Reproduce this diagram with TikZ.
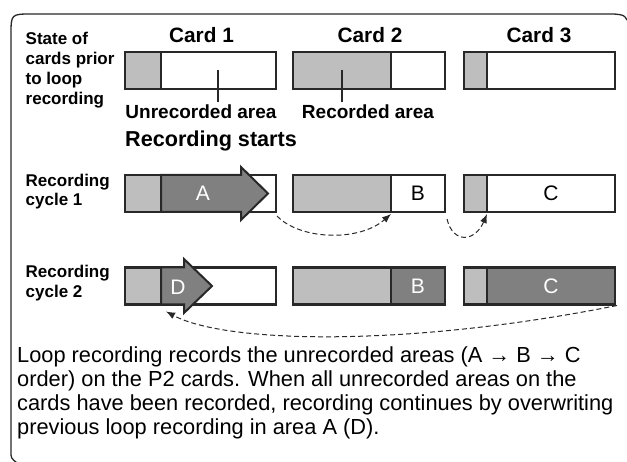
\documentclass[tikz,border=0pt]{standalone}
\usepackage{fontspec}
\setmainfont{Liberation Sans}
\usetikzlibrary{arrows.meta}
\definecolor{recgrey}{RGB}{190,190,190}
\definecolor{newgrey}{RGB}{128,128,128}
\definecolor{edgegrey}{RGB}{40,40,40}

\begin{document}
\begin{tikzpicture}[x=1pt,y=-1pt,
  seg/.style={draw=edgegrey,line width=2.4pt,minimum height=37pt,inner sep=0pt,outer sep=0pt,anchor=west,font=\fontsize{21}{24}\selectfont},
  old/.style={seg,fill=recgrey},
  new/.style={seg,fill=newgrey,text=white},
  head/.style={draw=edgegrey,line width=2pt,fill=newgrey,line join=miter},
  title/.style={font=\bfseries\fontsize{20.8}{24}\selectfont,anchor=base,inner sep=3pt},
  side/.style={font=\bfseries\fontsize{17}{20}\selectfont,align=left,anchor=base west,inner sep=0pt},
  tag/.style={font=\fontsize{21}{24}\selectfont,text=white},
  flow/.style={draw=edgegrey,line width=1pt,dash pattern=on 5pt off 3pt,-{Latex[length=9pt,width=7pt]}},
  pointer/.style={draw=edgegrey,line width=1.5pt}
]
\useasboundingbox (0,0) rectangle (627,462);

% frame
\draw[edgegrey,line width=1.3pt] (627,20) .. controls (624,15) .. (614,14) -- (32,14)
  .. controls (11,14) .. (11,35) -- (11,452) .. controls (11,458) .. (17,463);

% titles (base of a multi-line node = its last line)
\node (card1) at (201.5,42.7) [title] {Card 1};
\node (card2) at (370,42.7) [title] {Card 2};
\node (card3) at (539,42.7) [title] {Card 3};
\node (before) at (25.5,105) [side] {State of\\cards prior\\to loop\\recording};
\node (cycle1) at (25.5,205.5) [side,font=\bfseries\fontsize{17}{19}\selectfont] {Recording\\cycle 1};
\node (cycle2) at (25.5,297.5) [side,font=\bfseries\fontsize{17}{19.5}\selectfont] {Recording\\cycle 2};
\node (start) at (125,146.7) [title,anchor=base west,inner sep=0pt,font=\bfseries\fontsize{21.6}{24}\selectfont] {Recording starts};

% recorded parts, same in every row
\foreach \row/\y in {0/70.5,1/193.5,2/286} {
  \node (g1\row) at (125,\y) [old,minimum width=36pt] {};
  \node (g2\row) at (293,\y) [old,minimum width=98pt] {};
  \node (g3\row) at (464,\y) [old,minimum width=23pt] {};
}

% state before
\node (u10) at (g10.east) [seg,minimum width=115pt] {};
\node (u20) at (g20.east) [seg,minimum width=54pt] {};
\node (u30) at (g30.east) [seg,minimum width=128pt] {};
\node (lblU) at (201,119) [title,font=\bfseries\fontsize{19}{24}\selectfont] {Unrecorded area};
\node (lblR) at (368,119) [title,font=\bfseries\fontsize{19}{24}\selectfont] {Recorded area};
\coordinate (ptU) at (218,70.5);
\coordinate (ptR) at (342,70.5);
\draw[pointer] (ptU) -- (ptU |- lblU.north);
\draw[pointer] (ptR) -- (ptR |- lblR.north);

% cycle 1
\node (u11) at (g11.east) [seg,minimum width=115pt] {};
\node (u21) at (g21.east) [seg,minimum width=54pt] {B};
\node (u31) at (g31.east) [seg,minimum width=128pt] {C};
\draw[head] (g11.north east) -- (241,175) -- (241,167) -- (268,193.5) -- (241,220)
  -- (241,212) -- (g11.south east) -- cycle;
\node (recA) at (203,193.5) [tag] {A};

% cycle 2
\node (u12) at (g12.east) [seg,minimum width=115pt] {};
\node (u22) at (g22.east) [new,minimum width=54pt] {B};
\node (u32) at (g32.east) [new,minimum width=128pt] {C};
\draw[head] (g12.north east) -- (184,267.5) -- (184,259) -- (212,286) -- (184,313)
  -- (184,304.5) -- (g12.south east) -- cycle;
\node (recD) at (178,287) [tag] {D};

% order of recording
\draw[flow] ([xshift=1pt,yshift=-4pt]u11.south east) .. controls +(23,24) and +(-32,28) .. ([yshift=-2pt]u21.south west);
\draw[flow] ([xshift=2pt,yshift=-7pt]u21.south east) .. controls +(6,25) and +(-12,28) .. ([yshift=-2pt]u31.south west);
\draw[flow] ([xshift=2pt,yshift=-1pt]u32.south east) .. controls +(-210,42) and +(60,32) .. ([xshift=5pt,yshift=-7pt]u12.south west);

% note
\node (note) at (17,435) [anchor=base west,align=left,inner sep=0pt,font=\fontsize{21.8}{24}\selectfont]
  {Loop recording records the unrecorded areas (A → B → C\\order) on the P2 cards. When all unrecorded areas on the\\cards have been recorded, recording continues by overwriting\\previous loop recording in area A (D).};
\end{tikzpicture}
\end{document}
